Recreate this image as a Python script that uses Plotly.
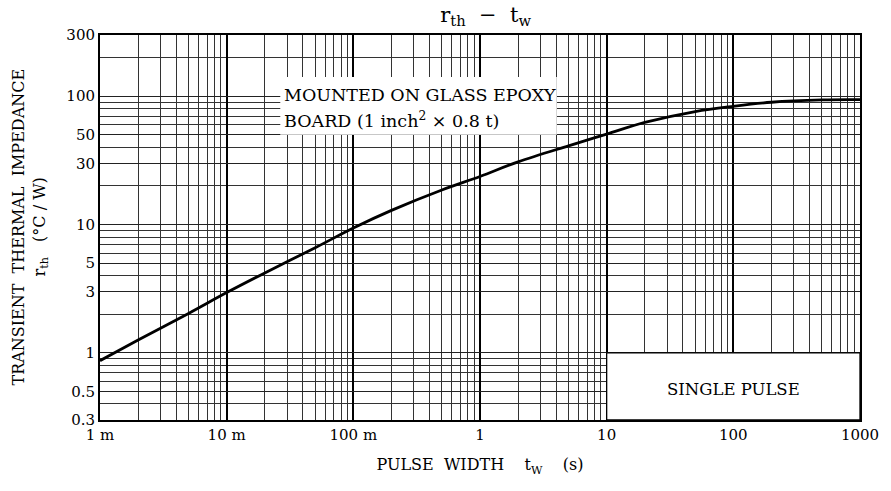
import numpy as np
import plotly.graph_objects as go

# ---- data ----
pulse_width_s = [0.001, 0.002, 0.005, 0.01, 0.02, 0.05, 0.1, 0.2, 0.5, 1, 2, 5, 10, 20, 50, 100, 200, 500, 1000]
rth_cw = [0.87, 1.26, 2.03, 2.95, 4.2, 6.6, 9.4, 12.9, 18.6, 23.7, 30.8, 41.1, 50.7, 62.5, 76, 83.5, 89.8, 93.6, 94]

x_label_vals = [0.001, 0.01, 0.1, 1, 10, 100, 1000]
x_label_text = ["1 m", "10 m", "100 m", "1", "10", "100", "1000"]
y_label_vals = [0.3, 0.5, 1, 3, 5, 10, 30, 50, 100, 300]
y_label_text = ["0.3", "0.5", "1", "3", "5", "10", "30", "50", "100", "300"]

x_grid = [m * 10.0 ** e for e in range(-3, 3) for m in range(1, 10)] + [1000]
y_grid = [0.3, 0.4, 0.5, 0.6, 0.7, 0.8, 0.9] + [m * 10.0 ** e for e in range(0, 2) for m in range(1, 10)] + [100, 200, 300]

FONT = "DejaVu Serif"

fig = go.Figure()
fig.add_trace(go.Scatter(x=pulse_width_s, y=rth_cw, mode="lines",
                         line=dict(color="black", width=2.8, shape="spline", smoothing=1.0),
                         hoverinfo="skip", showlegend=False))

# white box behind the mounting note
fig.add_shape(type="rect", xref="x", yref="y", x0=0.0265, x1=4.04, y0=50, y1=141,
              fillcolor="white", line=dict(width=0), layer="above")
# single pulse box
fig.add_shape(type="rect", xref="x", yref="y", x0=10, x1=1000, y0=0.3, y1=1,
              fillcolor="white", line=dict(color="black", width=1.3), layer="above")

fig.add_annotation(x=np.log10(0.0272), y=np.log10(103), xref="x", yref="y",
                   text="MOUNTED ON GLASS EPOXY", showarrow=False, xanchor="left",
                   font=dict(family=FONT, size=17.5, color="black"))
fig.add_annotation(x=np.log10(0.0272), y=np.log10(65), xref="x", yref="y",
                   text="BOARD (1 inch<sup>2</sup> × 0.8 t)", showarrow=False, xanchor="left",
                   font=dict(family=FONT, size=17.5, color="black"))
fig.add_annotation(x=np.log10(100), y=np.log10(0.516), xref="x", yref="y",
                   text="SINGLE PULSE", showarrow=False,
                   font=dict(family=FONT, size=16.5, color="black"))

# y-axis title lines
fig.add_annotation(x=0, y=0.5, xref="paper", yref="paper", xshift=-82, textangle=-90,
                   xanchor="center", yanchor="middle",
                   text="TRANSIENT  THERMAL  IMPEDANCE", showarrow=False,
                   font=dict(family=FONT, size=16, color="black"))
fig.add_annotation(x=0, y=0.5, xref="paper", yref="paper", xshift=-60, textangle=-90,
                   xanchor="center", yanchor="middle",
                   text="r<sub>th</sub>   (°C / W)", showarrow=False,
                   font=dict(family=FONT, size=16, color="black"))

fig.update_layout(
    width=891, height=491,
    margin=dict(l=100, r=21, t=35, b=71),
    paper_bgcolor="white", plot_bgcolor="white",
    font=dict(family=FONT, size=15, color="black"),
    title=dict(text="r<sub>th</sub>  −  t<sub>w</sub>", x=0.545, xanchor="center", y=0.986,
               yanchor="top", font=dict(family=FONT, size=21, color="black")),
    xaxis=dict(type="log", range=[-3, 3], tickvals=x_label_vals, ticktext=x_label_text,
               showgrid=True, gridcolor="black", gridwidth=1.6,
               minor=dict(tickvals=x_grid, showgrid=True, gridcolor="#333333", gridwidth=1, ticks=""),
               showline=True, linecolor="black", linewidth=2, mirror=True, ticks="",
               zeroline=False, tickfont=dict(family=FONT, size=15),
               title=dict(text="PULSE  WIDTH    t<sub>W</sub>    (s)", standoff=16,
                          font=dict(family=FONT, size=16))),
    yaxis=dict(type="log", range=[np.log10(0.3), np.log10(300)], tickvals=y_label_vals,
               ticktext=y_label_text, showgrid=True, gridcolor="#222222", gridwidth=1,
               minor=dict(tickvals=y_grid, showgrid=True, gridcolor="#333333", gridwidth=1, ticks=""),
               showline=True, linecolor="black", linewidth=2, mirror=True, ticks="",
               zeroline=False, tickfont=dict(family=FONT, size=15)),
)

fig.write_html("out.html", config={"displayModeBar": False},
               post_script="document.body.style.margin='0';document.body.style.overflow='hidden';")
